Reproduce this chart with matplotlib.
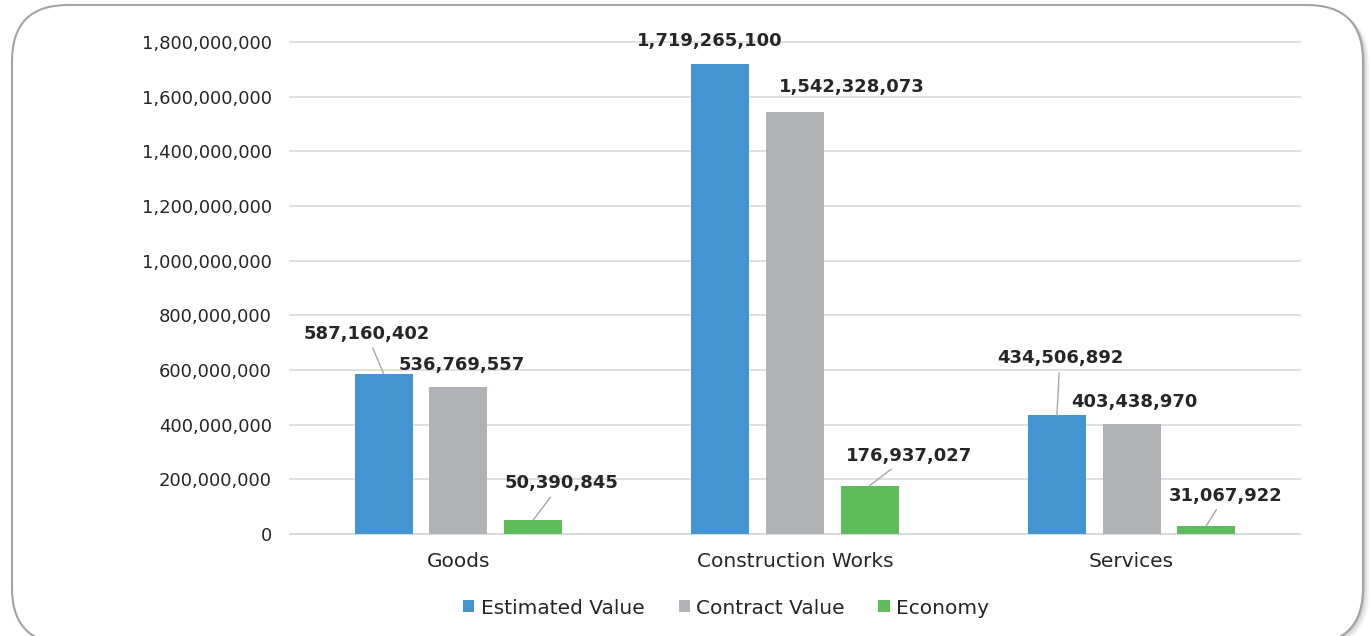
import matplotlib
matplotlib.use("Agg")
import matplotlib.pyplot as plt
from matplotlib.patches import FancyBboxPatch
from matplotlib.transforms import IdentityTransform
from matplotlib.ticker import FuncFormatter, MultipleLocator
import numpy as np

# donnees
categories = ["Goods", "Construction Works", "Services"]
series = ["Estimated Value", "Contract Value", "Economy"]
estimated = [587160402, 1719265100, 434506892]
contract = [536769557, 1542328073, 403438970]
economy = [50390845, 176937027, 31067922]

colors = ["#4394D0", "#B1B2B6", "#5EBD5A"]
# decalage des etiquettes (pixels) et trait de rappel
lab_off = [[(-17, 40), (3, 22), (28, 37)],
           [(-11, 23), (57, 25), (39, 30)],
           [(3, 57), (3, 22), (19, 30)]]
leader = [[True, False, True],
          [False, False, True],
          [True, False, True]]

fig = plt.figure(figsize=(13.71, 6.36), dpi=100)

# cadre arrondi + ombre
for dx, dy, a in [(6, -4, 0.10), (4, -3, 0.15), (2, -1, 0.25)]:
    fig.patches.append(FancyBboxPatch((12 + dx, -8 + dy), 1351, 639,
                                      boxstyle="round,pad=0,rounding_size=56",
                                      transform=IdentityTransform(),
                                      fc="#808080", ec="none", alpha=a, zorder=-10))
fig.patches.append(FancyBboxPatch((12, -8), 1351, 639,
                                  boxstyle="round,pad=0,rounding_size=56",
                                  transform=IdentityTransform(),
                                  fc="white", ec="#A3A3A8", lw=1.5, zorder=-9))

ax = fig.add_axes([290 / 1371, 1 - 534 / 636, 1010 / 1371, 492 / 636])
ax.set_facecolor("none")

x = np.arange(len(categories))
w = 0.172
offs = [-0.222, 0.0, 0.222]
data = [estimated, contract, economy]
for j, (vals, name) in enumerate(zip(data, series)):
    bars = ax.bar(x + offs[j], vals, w, color=colors[j], label=name, zorder=3)
    for i, b in enumerate(bars):
        v = vals[i]
        ap = dict(arrowstyle="-", color="#A6A6A6", lw=1.0, shrinkA=2, shrinkB=0) if leader[i][j] else None
        ax.annotate(f"{v:,}", xy=(b.get_x() + b.get_width() / 2, v),
                    xytext=lab_off[i][j], textcoords="offset pixels",
                    ha="center", va="center", fontsize=13, fontweight="bold",
                    color="#262626", arrowprops=ap, zorder=5)

ax.set_xlim(-0.5, 2.5)
ax.set_ylim(0, 1.8e9)
ax.yaxis.set_major_locator(MultipleLocator(2e8))
ax.yaxis.set_major_formatter(FuncFormatter(lambda v, p: f"{int(v):,}"))
ax.set_xticks(x)
ax.set_xticklabels(categories)
ax.grid(axis="y", color="#D9D9D9", lw=1.2, zorder=0)
for gl in ax.get_ygridlines():
    gl.set_clip_on(False)
for s in ["top", "right", "left"]:
    ax.spines[s].set_visible(False)
ax.spines["bottom"].set_color("#D9D9D9")
ax.spines["bottom"].set_linewidth(1.2)
ax.tick_params(axis="y", length=0, pad=13, labelsize=13, labelcolor="#262626")
ax.tick_params(axis="x", length=0, pad=13, labelsize=14.5, labelcolor="#262626")

fig.legend(loc="center", bbox_to_anchor=(726 / 1371, 1 - 608 / 636), ncol=3,
           frameon=False, fontsize=14.5, handlelength=0.55, handleheight=0.55,
           handletextpad=0.3, columnspacing=1.7, labelcolor="#262626")

fig.savefig("out.png", dpi=100)
